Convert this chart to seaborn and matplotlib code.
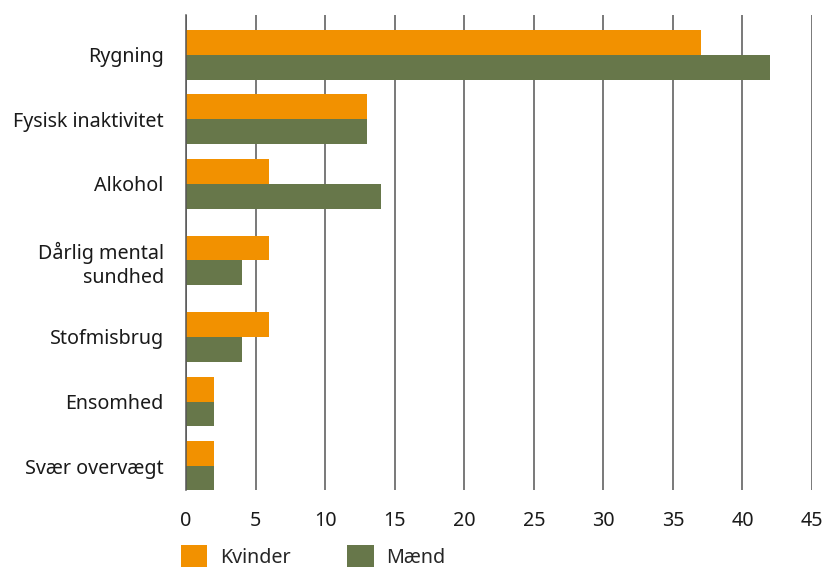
import numpy as np
import pandas as pd
import matplotlib
matplotlib.use("Agg")
import matplotlib.pyplot as plt
import seaborn as sns

categories = ["Rygning", "Fysisk inaktivitet", "Alkohol", "Dårlig mental\nsundhed",
              "Stofmisbrug", "Ensomhed", "Svær overvægt"]
kvinder = [37, 13, 6, 6, 6, 2, 2]
maend = [42, 13, 14, 4, 4, 2, 2]
series = ["Kvinder", "Mænd"]
xticks = [0, 5, 10, 15, 20, 25, 30, 35, 40, 45]

colors = {"Kvinder": "#F29100", "Mænd": "#67774A"}

sns.set_theme(style="white")
plt.rcParams["font.family"] = ["Noto Sans", "DejaVu Sans"]

# layout: extra room between groups next to a two-line label
lines = [c.count("\n") + 1 for c in categories]
pos = [0.0]
for i in range(1, len(categories)):
    pos.append(pos[-1] + 1 + 0.186 * ((lines[i] - 1) + (lines[i - 1] - 1)))

df = pd.DataFrame({
    "pos": pos * 2,
    "value": kvinder + maend,
    "serie": [series[0]] * len(categories) + [series[1]] * len(categories),
})

fs = 14.2
fig = plt.figure(figsize=(8.38, 5.70), dpi=100)
ax = fig.add_axes([186 / 838, 1 - 490 / 570, (812 - 186) / 838, (490 - 15) / 570])

sns.barplot(data=df, x="value", y="pos", hue="serie", hue_order=series,
            palette=colors, orient="y", native_scale=True, width=0.775,
            saturation=1, ax=ax, legend=True, linewidth=0)

ax.set_xlim(0, 45)
ax.set_ylim(pos[-1] + 0.372, pos[0] - 0.62)
ax.set_yticks(pos)
ax.set_yticklabels(categories, fontsize=fs, color="#1a1a1a", ha="right",
                   multialignment="right", linespacing=1.25)
ax.set_xticks(xticks)
ax.set_xticklabels([str(t) for t in xticks], fontsize=fs, color="#1a1a1a")
ax.tick_params(axis="both", length=0)
ax.tick_params(axis="y", pad=16)
ax.tick_params(axis="x", pad=15)
ax.set_xlabel("")
ax.set_ylabel("")
ax.grid(axis="x", color="#555555", linewidth=1.1)
ax.grid(axis="y", visible=False)
ax.set_axisbelow(True)
for s in ["top", "right", "bottom"]:
    ax.spines[s].set_visible(False)
ax.spines["left"].set_color("#555555")
ax.spines["left"].set_linewidth(1.1)

handles, labels = ax.get_legend_handles_labels()
ax.get_legend().remove()
fig.legend(handles, labels, loc="upper left",
           bbox_to_anchor=(181 / 838, 1 - 545 / 570), frameon=False,
           ncol=2, fontsize=fs, handlelength=1.34, handleheight=1.34,
           handletextpad=0.65, columnspacing=2.85, borderpad=0,
           borderaxespad=0)

fig.savefig("out.png", dpi=100)
